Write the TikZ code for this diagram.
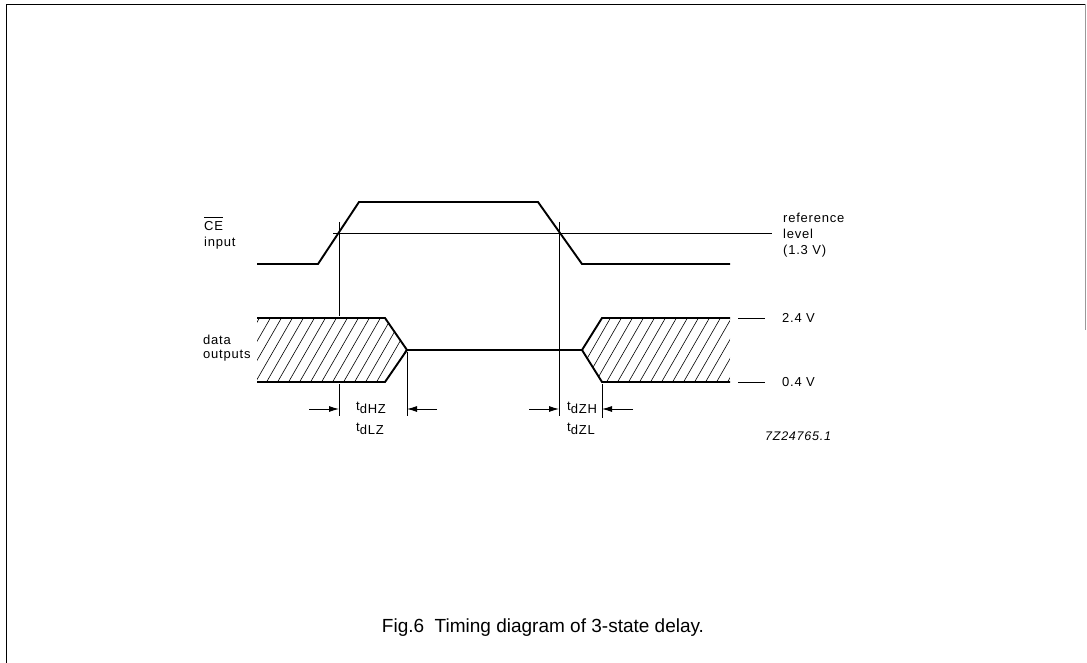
\documentclass[tikz,border=0pt]{standalone}
\usepackage{fontspec}
\setmainfont{Liberation Sans}
\usetikzlibrary{arrows.meta}
\begin{document}
\begin{tikzpicture}[x=1pt,y=-1pt,
  sig/.style={line width=1.9pt, line join=miter},
  thin/.style={line width=0.75pt},
  hatch/.style={line width=0.6pt},
  lbl/.style={font=\fontsize{13}{15}\selectfont\addfontfeature{LetterSpace=6}, inner sep=0pt, anchor=west},
  dimarrow/.style={line width=0.9pt, -{Latex[length=10pt,width=6pt]}}]
\useasboundingbox (0,0) rectangle (1087,663);
% frame
\draw[line width=1.6pt] (6.5,663) -- (6.5,4.5) -- (1086,4.5);
\draw[line width=0.8pt, black!40] (1085.5,4.5) -- (1085.5,330);
% reference level line
\coordinate (refL) at (333,233);
\coordinate (refR) at (772,233);
\draw[thin] (refL) -- (refR);
% CE waveform
\draw[sig] (257,264) -- (318,264) -- (359,202) -- (538,202) -- (582,264) -- (730,264);
% vertical markers
\coordinate (v1t) at (339,222); \coordinate (v1m) at (339,316);
\coordinate (v1n) at (339,384); \coordinate (v1b) at (339,416);
\coordinate (v2t) at (559,222); \coordinate (v2b) at (559,416);
\draw[thin] (v1t) -- (v1m);
\draw[thin] (v1n) -- (v1b);
\draw[thin] (v2t) -- (v2b);
\coordinate (v3t) at (407,352); \coordinate (v3b) at (407,416);
\coordinate (v4t) at (602,384); \coordinate (v4b) at (602,418);
\draw[thin] (v3t) -- (v3b);
\draw[thin] (v4t) -- (v4b);
% hatching left block
\begin{scope}
\clip (257,318) -- (385,318) -- (407,350) -- (385,382) -- (257,382) -- cycle;
\foreach \x in {200,211,...,420} \draw[hatch] (\x,383) -- (\x+38,317);
\end{scope}
\begin{scope}
\clip (582,350) -- (602,318) -- (730,318) -- (730,382) -- (602,382) -- cycle;
\foreach \x in {540,551,...,750} \draw[hatch] (\x,383) -- (\x+38,317);
\end{scope}
% data outputs outlines
\draw[sig] (257,318) -- (385,318) -- (407,350) -- (385,382) -- (257,382);
\draw[sig] (730,318) -- (602,318) -- (582,350) -- (602,382) -- (730,382);
\draw[line width=1.3pt] (407,350) -- (582,350);
% level ticks
\coordinate (h1a) at (738,318); \coordinate (h1b) at (765,318);
\coordinate (h2a) at (738,382); \coordinate (h2b) at (765,382);
\draw[thin] (h1a) -- (h1b);
\draw[thin] (h2a) -- (h2b);
% dimension arrows
\coordinate (a1) at (309,409); \coordinate (a2) at (437,409);
\coordinate (a3) at (529,409); \coordinate (a4) at (633,409);
\draw[dimarrow] (a1) -- (v1b |- a1);
\draw[dimarrow] (a2) -- (v3b |- a2);
\draw[dimarrow] (a3) -- (v2b |- a3);
\draw[dimarrow] (a4) -- (v4b |- a4);
% labels
\node[lbl] (ce) at (204,226) {CE};
\draw[thin] ([yshift=4pt]ce.north west) -- ([yshift=4pt]ce.north east);
\node[lbl] (inp) at (204,243) {input};
\node[lbl] (data) at (203,340) {data};
\node[lbl] (outp) at (203,356) {outputs};
\node[lbl] (ref) at (783,218) {reference};
\node[lbl] (lev) at (783,234) {level};
\node[lbl] (volt) at (783,251) {(1.3 V)};
\node[lbl] (v24) at (782,318) {2.4 V};
\node[lbl] (v04) at (782,382) {0.4 V};
\node[lbl] (tdhz) at (356,408) {t\raisebox{-3.5pt}{dHZ}};
\node[lbl] (tdlz) at (356,429) {t\raisebox{-3.5pt}{dLZ}};
\node[lbl] (tdzh) at (567,408) {t\raisebox{-3.5pt}{dZH}};
\node[lbl] (tdzl) at (567,429) {t\raisebox{-3.5pt}{dZL}};
\node[lbl, font=\fontsize{12.5}{14}\selectfont\itshape\addfontfeature{LetterSpace=6}] (code) at (765,436) {7Z24765.1};
\node[inner sep=0pt, font=\fontsize{19}{22}\selectfont] (cap) at (543,628) {Fig.6\ \ Timing diagram of 3-state delay.};
\end{tikzpicture}
\end{document}
